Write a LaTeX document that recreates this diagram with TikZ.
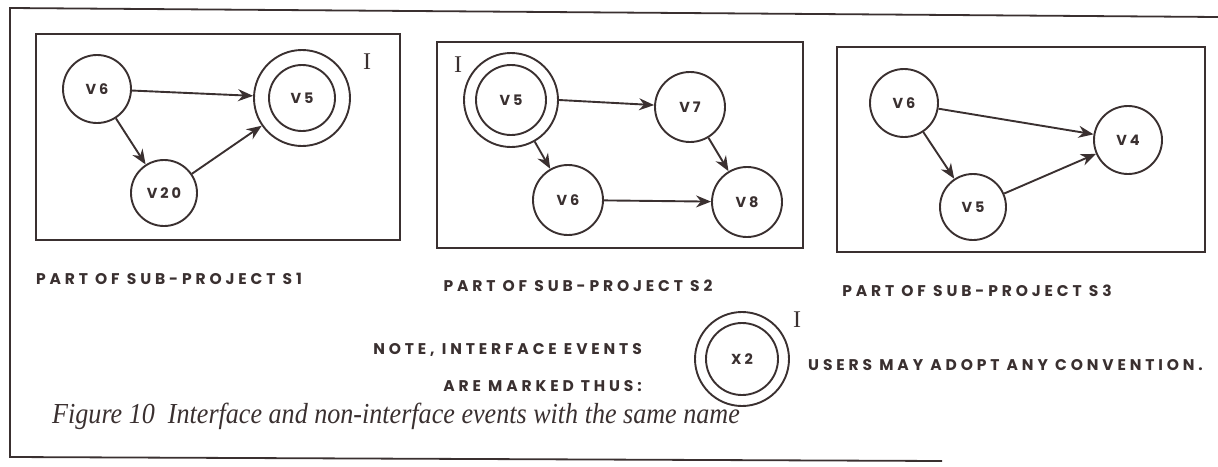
\documentclass[tikz,border=0pt]{standalone}
\usepackage{fontspec}
\setmainfont{Liberation Serif}
\newfontfamily\labfont[LetterSpace=25]{Poppins}
\newfontfamily\evfont[LetterSpace=20]{Poppins}
\newfontfamily\capfont[FakeStretch=0.9]{Liberation Serif}
\usetikzlibrary{arrows.meta}
\definecolor{ink}{RGB}{58,48,48}
\tikzset{
  ev/.style={circle,draw=ink,line width=1.9pt,inner sep=0pt,text=ink,
    font=\evfont\bfseries\fontsize{14.5}{14.5}\selectfont},
  ring/.style={circle,draw=ink,line width=1.9pt,inner sep=0pt},
  arr/.style={draw=ink,line width=1.9pt,-{Stealth[length=15pt,width=12pt]}},
  frame/.style={draw=ink,line width=1.8pt},
  lab/.style={font=\labfont\bfseries\fontsize{15.5}{15.5}\selectfont,text=ink,inner sep=0pt},
  imark/.style={font=\fontsize{24}{24}\selectfont,text=ink,inner sep=0pt},
}
\begin{document}
\begin{tikzpicture}[x=1pt,y=-1pt]
\useasboundingbox (0,0) rectangle (1218,466);
% outer frame
\coordinate (otl) at (10,8);
\coordinate (otr) at (1218,17);
\coordinate (obl) at (10,457);
\coordinate (obr) at (942,461);
\draw[frame] (otr) -- (otl) -- (obl) -- (obr);
% boxes
\node[frame,draw,rectangle,minimum width=364pt,minimum height=206pt,inner sep=0pt] (box1) at (218,137) {};
\node[frame,draw,rectangle,minimum width=366pt,minimum height=206pt,inner sep=0pt] (box2) at (620,145) {};
\node[frame,draw,rectangle,minimum width=368pt,minimum height=205pt,inner sep=0pt] (box3) at (1021,149.5) {};
% S1
\node[ev,minimum size=68pt] (a6) at (97,89) {V6};
\node[ev,minimum size=66pt] (a5) at (302,98) {V5};
\node[ring,minimum size=96pt] (a5o) at (302,98) {};
\node[ev,minimum size=66pt] (a20) at (164,193) {V20};
\node[imark] (ai) at (367,62) {I};
\draw[arr] (a6) -- (a5o);
\draw[arr] (a6) -- (a20);
\draw[arr] (a20) -- (a5o);
% S2
\node[ev,minimum size=70pt] (b5) at (511,100) {V5};
\node[ring,minimum size=94pt] (b5o) at (511,100) {};
\node[imark] (bi) at (458,65) {I};
\node[ev,minimum size=70pt] (b7) at (690,107) {V7};
\node[ev,minimum size=70pt] (b6) at (568,200) {V6};
\node[ev,minimum size=70pt] (b8) at (747,202) {V8};
\draw[arr] (b5o.east) -- (b7);
\draw[arr] (b5o) -- (b6);
\draw[arr] (b6) -- (b8);
\draw[arr] (b7) -- (b8);
% S3
\node[ev,minimum size=68pt] (c6) at (904,103) {V6};
\node[ev,minimum size=68pt] (c4) at (1128,140) {V4};
\node[ev,minimum size=66pt] (c5) at (973,207) {V5};
\draw[arr] (c6) -- (c4);
\draw[arr] (c6) -- (c5);
\draw[arr] (c5) -- (c4);
% labels
\node[lab] (l1) at (169,279) {PART OF SUB-PROJECT S1};
\node[lab] (l2) at (578,286) {PART OF SUB-PROJECT S2};
\node[lab] (l3) at (977,291) {PART OF SUB-PROJECT S3};
\node[lab,anchor=east] (n1) at (642,350) {NOTE, INTERFACE EVENTS};
\node[lab,anchor=east] (n2) at (642,386) {ARE MARKED THUS:};
\node[ev,minimum size=72pt] (x2) at (742,359) {X2};
\node[ring,minimum size=94pt] (x2o) at (742,359) {};
\node[imark] (xi) at (797,320) {I};
\node[lab,anchor=west] (n3) at (808,365) {USERS MAY ADOPT ANY CONVENTION.};
% caption
\node[anchor=west,inner sep=0pt,text=ink,font=\capfont\itshape\fontsize{29}{29}\selectfont] (cap) at (52,416)
  {Figure 10\ \ Interface and non-interface events with the same name};
\end{tikzpicture}
\end{document}
